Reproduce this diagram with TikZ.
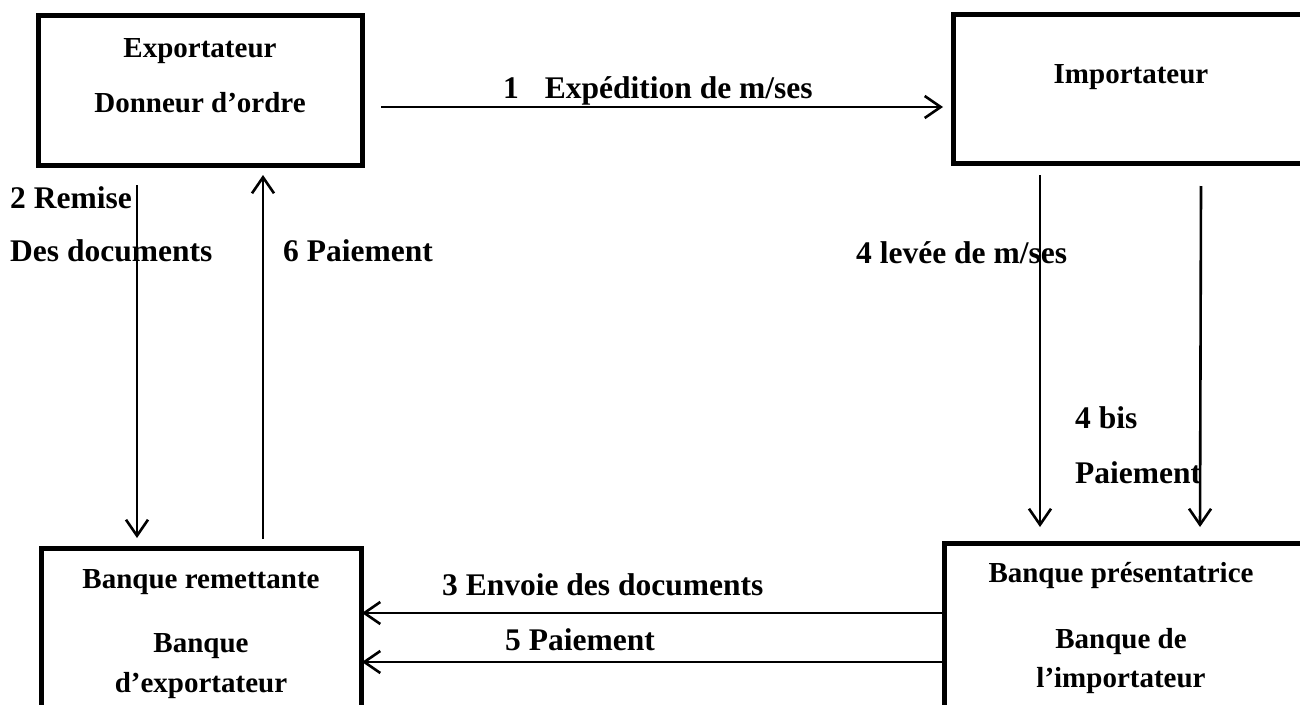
\documentclass[tikz,border=0pt]{standalone}
\usepackage{fontspec}
\setmainfont{Liberation Serif}
\usetikzlibrary{arrows.meta}
\begin{document}
\begin{tikzpicture}[x=1pt,y=-1pt,
  party/.style={draw, line width=5pt, rectangle, inner sep=0pt},
  boxtext/.style={font=\fontsize{29}{34}\selectfont\bfseries, inner sep=0pt, anchor=base},
  lbl/.style={font=\fontsize{31.5}{38}\selectfont\bfseries, inner sep=0pt, anchor=base west},
  flow/.style={line width=2.6pt, -{Straight Barb[length=16pt,width=22pt,line width=2.6pt]}}]
\useasboundingbox[fill=white] (0,0) rectangle (1300,704);

% parties
\node[party, minimum width=324pt, minimum height=150pt] (exp) at (200,90) {};
\node[party, minimum width=357pt, minimum height=149pt] (imp) at (1131.5,88.5) {};
\node[party, minimum width=320pt, minimum height=212pt] (rem) at (201,654) {};
\node[party, minimum width=358pt, minimum height=217pt] (pre) at (1123,651.5) {};

% texts inside the boxes
\node[boxtext] (expA) at (200,57) {Exportateur};
\node[boxtext] (expB) at (200,112) {Donneur d’ordre};
\node[boxtext] (impA) at (1131,83) {Importateur};
\node[boxtext] (remA) at (201,588) {Banque remettante};
\node[boxtext] (remB) at (201,652) {Banque};
\node[boxtext] (remC) at (201,692) {d’exportateur};
\node[boxtext] (preA) at (1121,582) {Banque présentatrice};
\node[boxtext] (preB) at (1121,648) {Banque de};
\node[boxtext] (preC) at (1121,687) {l’importateur};

% end points of the flows
\coordinate (f1s) at (381,107);   \coordinate (f1e) at (943,107);
\coordinate (f2s) at (137,185);   \coordinate (f2e) at (137,538);
\coordinate (f6s) at (263,539);   \coordinate (f6e) at (263,175);
\coordinate (f4s) at (1040,175);  \coordinate (f4e) at (1040,527);
\coordinate (f4bs) at (1201,186); \coordinate (f4be) at (1200,527);
\coordinate (f3s) at (944,613);   \coordinate (f3e) at (362,613);
\coordinate (f5s) at (944,662);   \coordinate (f5e) at (362,662);

% flows
\draw[flow] (f1s) -- (f1e);
\draw[flow] (f2s) -- (f2e);
\draw[flow] (f6s) -- (f6e);
\draw[flow] (f4s) -- (f4e);
\draw[flow] (f4bs) -- (f4be);
\draw[flow] (f3s) -- (f3e);
\draw[flow] (f5s) -- (f5e);

% flow labels
\node[lbl] (l1) at (503,98) {1\hspace{26pt}Expédition de m/ses};
\node[lbl] (l2a) at (10,208) {2 Remise};
\node[lbl] (l2b) at (10,261) {Des documents};
\node[lbl] (l6) at (283,261) {6 Paiement};
\node[lbl] (l4) at (856,263) {4 levée de m/ses};
\node[lbl] (l4ba) at (1075,428) {4 bis};
\node[lbl] (l4bb) at (1075,483) {Paiement};
\node[lbl] (l3) at (442,595) {3 Envoie des documents};
\node[lbl] (l5) at (505,650) {5 Paiement};
\end{tikzpicture}
\end{document}
